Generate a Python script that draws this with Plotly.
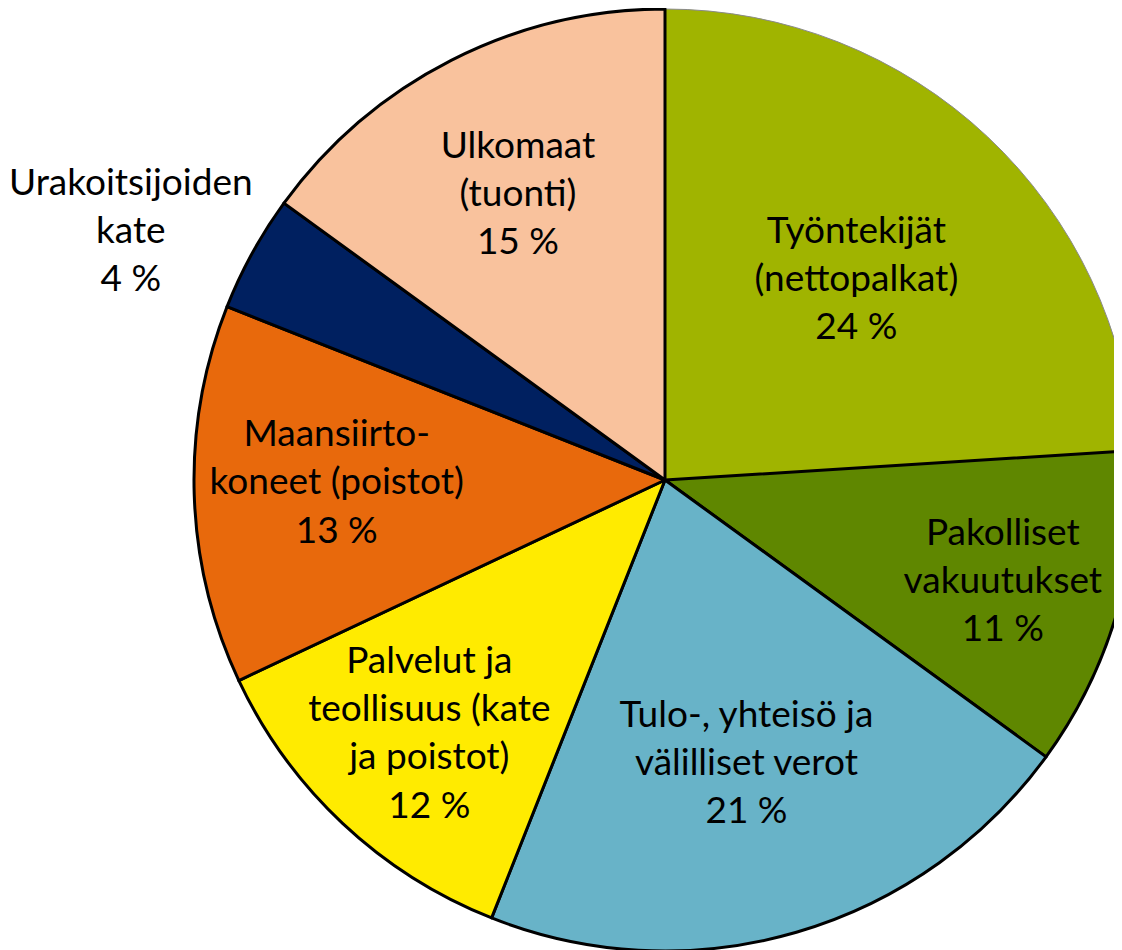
import math
import plotly.graph_objects as go

labels = [
    "Työntekijät<br>(nettopalkat)",
    "Pakolliset<br>vakuutukset",
    "Tulo-, yhteisö ja<br>välilliset verot",
    "Palvelut ja<br>teollisuus (kate<br>ja poistot)",
    "Maansiirto-<br>koneet (poistot)",
    "Urakoitsijoiden<br>kate",
    "Ulkomaat<br>(tuonti)",
]
values = [24, 11, 21, 12, 13, 4, 15]
colors = ["#A0B400", "#5F8700", "#68B3C8", "#FFEB00", "#E8690C", "#002060", "#F9C29D"]
# the small slice's label is drawn beside the pie (see annotation below)
text_positions = ["inside", "inside", "inside", "inside", "inside", "none", "inside"]
line_colors = ["#8a8a8a", "black", "black", "black", "black", "black", "black"]
line_widths = [1, 3, 3, 3, 3, 3, 3]

# figure size and pie geometry (page is offset by the default 8px body margin)
W, H = 1140, 950
cx, cy, r = 657, 472, 471
FONT_SIZE = 37
OUTSIDE_IDX = 5

fig = go.Figure(go.Pie(
    labels=labels,
    values=values,
    sort=False,
    direction="clockwise",
    rotation=0,
    marker=dict(colors=colors, line=dict(color=line_colors, width=line_widths)),
    texttemplate="%{label}<br>%{value} %",
    textposition=text_positions,
    insidetextorientation="horizontal",
    textfont=dict(family="Lato", size=FONT_SIZE, color="black"),
    showlegend=False,
    automargin=False,
    domain=dict(x=[(cx - r) / W, (cx + r) / W], y=[1 - (cy + r) / H, 1 - (cy - r) / H]),
))

# label of the small slice, placed next to the rim point at the slice's mid-angle
total = sum(values)
mid = (sum(values[:OUTSIDE_IDX]) + values[OUTSIDE_IDX] / 2) / total * 2 * math.pi
ex = cx + r * math.sin(mid)
ey = cy - r * math.cos(mid)
fig.add_annotation(
    x=ex / W, y=1 - ey / H, xref="paper", yref="paper",
    xanchor="right", yanchor="middle", xshift=3, yshift=25,
    text=f"{labels[OUTSIDE_IDX]}<br>{values[OUTSIDE_IDX]} %",
    showarrow=False, align="center",
    font=dict(family="Lato", size=FONT_SIZE, color="black"),
)

fig.update_layout(
    width=W,
    height=H,
    margin=dict(l=0, r=0, t=0, b=0, autoexpand=False),
    uniformtext=dict(minsize=FONT_SIZE, mode="show"),
    paper_bgcolor="white",
    plot_bgcolor="white",
    font=dict(family="Lato"),
)

fig.write_html("out.html")
